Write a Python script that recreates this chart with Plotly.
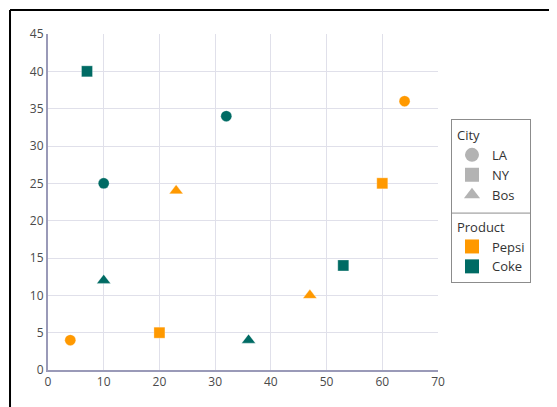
import plotly.graph_objects as go

# datos
ciudades = ['LA', 'NY', 'Bos']
productos = ['Pepsi', 'Coke']

pepsi_x = {'LA': [4, 64], 'NY': [20, 60], 'Bos': [23, 47]}
pepsi_y = {'LA': [4, 36], 'NY': [5, 25], 'Bos': [24, 10]}
coke_x = {'LA': [10, 32], 'NY': [7, 53], 'Bos': [10, 36]}
coke_y = {'LA': [25, 34], 'NY': [40, 14], 'Bos': [12, 4]}

simbolos = {'LA': 'circle', 'NY': 'square', 'Bos': 'triangle-up'}
colores = {'Pepsi': '#FF9900', 'Coke': '#006B64'}

fig = go.Figure()

# puntos reales
for ciudad in ciudades:
    for prod, xs, ys in [('Pepsi', pepsi_x, pepsi_y), ('Coke', coke_x, coke_y)]:
        fig.add_trace(go.Scatter(
            x=xs[ciudad], y=ys[ciudad], mode='markers', showlegend=False,
            marker=dict(symbol=simbolos[ciudad], color=colores[prod],
                        size=12 if ciudad == 'Bos' else 11,
                        line=dict(width=0.5, color='rgba(255,255,255,0.6)')),
            name=f'{ciudad} {prod}'))

# entradas de la leyenda
for ciudad in ciudades:
    fig.add_trace(go.Scatter(
        x=[None], y=[None], mode='markers', name=ciudad,
        legendgroup='city', legendgrouptitle_text='City',
        marker=dict(symbol=simbolos[ciudad], color='#B3B3B3', size=14)))
for prod in productos:
    fig.add_trace(go.Scatter(
        x=[None], y=[None], mode='markers', name=prod,
        legendgroup='product', legendgrouptitle_text='Product',
        marker=dict(symbol='square', color=colores[prod], size=14)))

fig.update_layout(
    width=549, height=399,
    margin=dict(l=40, r=119, t=26, b=37),
    plot_bgcolor='white', paper_bgcolor='white',
    font=dict(family='Open Sans, sans-serif', size=12, color='#4a4a4a'),
    showlegend=True,
    legend=dict(x=1.0333, y=0.747, xanchor='left', yanchor='top',
                bgcolor='rgba(0,0,0,0)',
                bordercolor='#8c8c8c', borderwidth=1,
                font=dict(size=13, color='#333333'),
                grouptitlefont=dict(size=13, color='#333333'),
                tracegroupgap=12, itemsizing='trace', itemwidth=30,
                traceorder='grouped'),
    xaxis=dict(range=[0, 70], dtick=10, showgrid=True, gridcolor='#E0E0EA',
               showline=True, linecolor='#9A9AB8', linewidth=2, zeroline=False,
               ticks='', fixedrange=True),
    yaxis=dict(range=[0, 45], dtick=5, showgrid=True, gridcolor='#E0E0EA',
               showline=True, linecolor='#9A9AB8', linewidth=2, zeroline=False,
               ticks='', fixedrange=True),
    shapes=[
        dict(type='line', xref='paper', yref='paper', x0=-0.0974, x1=1.4,
             y0=1.0714, y1=1.0714, line=dict(color='black', width=2)),
        dict(type='line', xref='paper', yref='paper', x0=-0.0974, x1=-0.0974,
             y0=1.0714, y1=-0.2, line=dict(color='black', width=2)),
        dict(type='line', xref='paper', yref='paper', x0=1.0333, x1=1.2359,
             y0=0.467, y1=0.467, line=dict(color='#8c8c8c', width=1)),
    ],
)

fig.write_html("out.html")
